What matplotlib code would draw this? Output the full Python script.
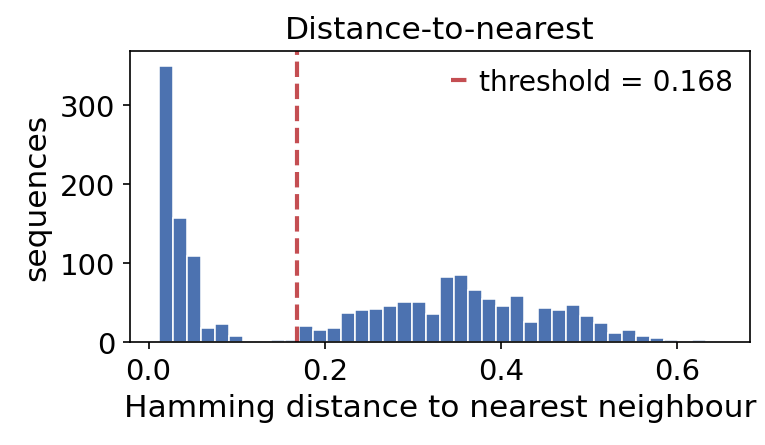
import numpy as np
import matplotlib
matplotlib.use("Agg")
import matplotlib.pyplot as plt

# histogram data (40 bins)
bin_start = 0.0115
bin_width = 0.01595
counts = [349, 157, 109, 18, 23, 8, 1, 0, 3, 3,
          21, 16, 18, 37, 41, 42, 46, 51, 51, 36,
          83, 85, 66, 55, 46, 59, 26, 43, 41, 47,
          33, 24, 12, 16, 8, 5, 3, 0, 3, 0]
threshold = 0.168

title = "Distance-to-nearest"
xlabel = "Hamming distance to nearest neighbour"
ylabel = "sequences"
xticks = [0.0, 0.2, 0.4, 0.6]
yticks = [0, 100, 200, 300]

plt.rcParams['font.family'] = ['DejaVu Sans']
plt.rcParams['font.size'] = 14

fig = plt.figure(figsize=(5.1, 2.973), dpi=150)
ax = fig.add_axes([130 / 765, 1 - 343.3 / 446, 620 / 765, (343.3 - 52) / 446])

edges = bin_start + bin_width * np.arange(len(counts) + 1)
ax.bar(edges[:-1], counts, width=bin_width, align='edge',
       color='#4C72B0', edgecolor='white', linewidth=0.75)
ax.axvline(threshold, color='#C44E52', linestyle='--', linewidth=2,
           label=f"threshold = {threshold:.3f}")

ax.set_xlim(-0.0211, 0.683)
ax.set_ylim(0, 368)
ax.set_xticks(xticks)
ax.set_yticks(yticks)
ax.tick_params(labelsize=14)
ax.set_title(title, fontsize=15)
ax.set_xlabel(xlabel, fontsize=15)
ax.set_ylabel(ylabel, fontsize=15)
ax.legend(loc='upper right', frameon=False, fontsize=13.5, handlelength=0.55,
          handletextpad=0.45, borderaxespad=0.2)

fig.savefig("out.png", dpi=150)
